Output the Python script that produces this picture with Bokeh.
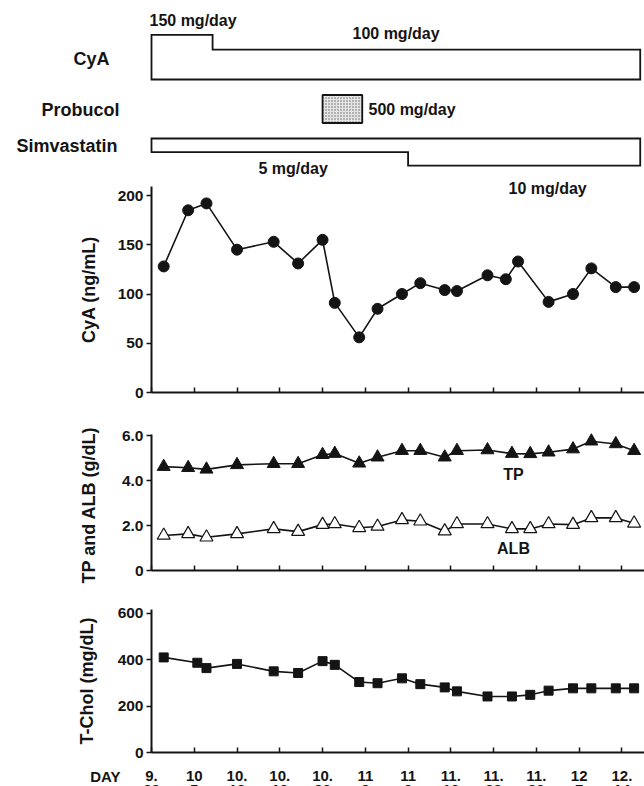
from bokeh.plotting import figure
from bokeh.layouts import column
from bokeh.models import (Range1d, FixedTicker, LinearAxis, CustomLabelingPolicy)
from bokeh.core.properties import value
from bokeh.embed import file_html
from bokeh.resources import INLINE

FONT = "Liberation Sans"
INK = "#141414"

# ---------------- data ----------------
week_days = [0, 7, 14, 21, 28, 35, 42, 49, 56, 63, 70, 77]
date_month = ["9.", "10", "10.", "10.", "10.", "11", "11", "11.", "11.", "11.", "12", "12."]
date_day = ["28", "5", "12", "19", "26", "2", "9", "16", "23", "30", "7", "14"]

cya_dose_start = [0, 10]
cya_dose_end = [10, 80]
cya_dose = [150, 100]

probucol_start = [28]
probucol_end = [34.5]
probucol_dose = [500]

simva_start = [0, 42]
simva_end = [42, 80]
simva_dose = [5, 10]

cya_day = [2, 6, 9, 14, 20, 24, 28, 30, 34, 37, 41, 44, 48, 50, 55, 58, 60, 65, 69, 72, 76, 79]
cya_level = [128, 185, 192, 145, 153, 131, 155, 91, 56, 85, 100, 111, 104, 103, 119, 115, 133, 92,
             100, 126, 107, 107]

tp_day = [2, 6, 9, 14, 20, 24, 28, 30, 34, 37, 41, 44, 48, 50, 55, 59, 62, 65, 69, 72, 76, 79]
tp = [4.62, 4.57, 4.5, 4.7, 4.75, 4.75, 5.15, 5.2, 4.77, 5.04, 5.33, 5.33, 5.04, 5.33, 5.36, 5.2,
      5.19, 5.26, 5.4, 5.75, 5.63, 5.33]

alb_day = [2, 6, 9, 14, 20, 24, 28, 30, 34, 37, 41, 44, 48, 50, 55, 59, 62, 65, 69, 72, 76, 79]
alb = [1.56, 1.63, 1.48, 1.63, 1.85, 1.73, 2.04, 2.07, 1.9, 1.96, 2.25, 2.19, 1.75, 2.07, 2.07, 1.85,
       1.85, 2.07, 2.04, 2.34, 2.34, 2.1]

chol_day = [2, 7.5, 9, 14, 20, 24, 28, 30, 34, 37, 41, 44, 48, 50, 55, 59, 62, 65, 69, 72, 76, 79]
chol = [409, 386, 363, 381, 349, 342, 393, 377, 303, 298, 319, 294, 280, 263, 241, 241, 248, 266,
        276, 276, 276, 276]

# ---------------- layout ----------------
W = 644
SPINE_X = 151
X_END = 80.7
ppd = (W - SPINE_X) / X_END


def px2day(px):
    return (px - SPINE_X) / ppd


def yrange(page_top, page_bottom, zero_page, k):
    return Range1d((zero_page - page_bottom) / k, (zero_page - page_top) / k)


def yval(page, zero_page, k):
    return (zero_page - page) / k


TXT = dict(text_font=value(FONT), text_font_style="bold", text_color=INK,
           text_baseline="middle")
NO_LABELS = CustomLabelingPolicy(code="return new Set()")


def base_fig(height, y_range):
    p = figure(width=W, height=height, x_range=Range1d(px2day(0), X_END), y_range=y_range,
               x_axis_type=None, y_axis_type=None, toolbar_location=None, output_backend="svg",
               min_border_left=0, min_border_right=0, min_border_top=0, min_border_bottom=0,
               outline_line_color=None, background_fill_color="white", border_fill_color="white")
    return p


# ---------- treatment panel ----------
TOP_H = 178
top = base_fig(TOP_H, Range1d(TOP_H, 0))

CYA_BASE, CYA_K = 79.0, 0.298
xs, ys = [cya_dose_start[0]], [CYA_BASE]
for s, e, d in zip(cya_dose_start, cya_dose_end, cya_dose):
    xs += [s, e]
    ys += [CYA_BASE - d * CYA_K] * 2
xs.append(cya_dose_end[-1]); ys.append(CYA_BASE)
top.patch(xs, ys, fill_color="white", line_color=INK, line_width=1.8, line_join="miter")

SIM_TOP, SIM_K = 138.0, 2.72
xs, ys = [simva_start[0]], [SIM_TOP]
for s, e, d in zip(simva_start, simva_end, simva_dose):
    xs += [s, e]
    ys += [SIM_TOP + d * SIM_K] * 2
xs.append(simva_end[-1]); ys.append(SIM_TOP)
top.patch(xs, ys, fill_color="white", line_color=INK, line_width=1.8, line_join="miter")

top.quad(left=probucol_start, right=probucol_end, top=[94.5], bottom=[122.5],
         fill_color="#e4e4e4", hatch_pattern="dot", hatch_color="#666", hatch_scale=3,
         line_color=INK, line_width=1.8)

top.text(x=[px2day(109), px2day(119), px2day(117)], y=[58.5, 109, 145.5],
         text=["CyA", "Probucol", "Simvastatin"], text_font_size="18px", text_align="right",
         **TXT)
top.text(x=[px2day(149), px2day(352), px2day(368), px2day(258)], y=[20, 32.7, 109.3, 167.8],
         text=[f"{cya_dose[0]} mg/day", f"{cya_dose[1]} mg/day", f"{probucol_dose[0]} mg/day",
               f"{simva_dose[0]} mg/day"], text_font_size="16px", text_align="left", **TXT)


# ---------- data panels ----------
def panel(height, page_top, zero_page, k, y_top, yticks, ylabel, standoff, overrides=None):
    p = base_fig(height, yrange(page_top, page_top + height, zero_page, k))
    xa = LinearAxis(fixed_location=0, bounds=(0, X_END), ticker=FixedTicker(ticks=week_days),
                    major_tick_in=5, major_tick_out=0, major_label_policy=NO_LABELS)
    ya = LinearAxis(fixed_location=0, bounds=(0, y_top), ticker=FixedTicker(ticks=yticks),
                    major_tick_in=0, major_tick_out=5, major_label_standoff=3,
                    axis_label=ylabel, axis_label_standoff=standoff)
    if overrides:
        ya.major_label_overrides = overrides
    for ax in (xa, ya):
        ax.major_label_text_font = FONT
        ax.major_label_text_font_style = "bold"
        ax.major_label_text_font_size = "15.5px"
        ax.major_label_text_color = INK
        ax.axis_label_text_font = FONT
        ax.axis_label_text_font_style = "bold"
        ax.axis_label_text_font_size = "18px"
        ax.axis_label_text_color = INK
        ax.minor_tick_line_color = None
        ax.axis_line_width = 2
        ax.axis_line_color = INK
        ax.major_tick_line_width = 1.5
        ax.major_tick_line_color = INK
    p.add_layout(xa, "below")
    p.add_layout(ya, "left")
    return p


CYA_ZERO, CYA_K_PX = 392, 0.985
cya_p = panel(410 - TOP_H, TOP_H, CYA_ZERO, CYA_K_PX, 209.1, [0, 50, 100, 150, 200],
              "CyA (ng/mL)", 16)
cya_p.line(cya_day, cya_level, line_color=INK, line_width=1.6)
cya_p.scatter(cya_day, cya_level, marker="circle", size=11, fill_color=INK, line_color=INK)
cya_p.text(x=[px2day(508)], y=[yval(188, CYA_ZERO, CYA_K_PX)],
           text=[f"{simva_dose[1]} mg/day"], text_font_size="16px", text_align="left", **TXT)

TP_ZERO, TP_K_PX = 570, 22.48
tp_p = panel(180, 410, TP_ZERO, TP_K_PX, 6.05, [0, 2, 4, 6], "TP and ALB  (g/dL)", 20,
             overrides={0: "0", 2: "2.0", 4: "4.0", 6: "6.0"})
tp_p.line(tp_day, tp, line_color=INK, line_width=1.6)
tp_p.scatter(tp_day, tp, marker="triangle", size=13, fill_color=INK, line_color=INK)
tp_p.line(alb_day, alb, line_color=INK, line_width=1.6)
tp_p.scatter(alb_day, alb, marker="triangle", size=13, fill_color="white", line_color=INK,
             line_width=1.2)
tp_p.text(x=[px2day(513), px2day(513)],
          y=[yval(474.2, TP_ZERO, TP_K_PX), yval(547.5, TP_ZERO, TP_K_PX)], text=["TP", "ALB"],
          text_font_size="16px", text_align="center", **TXT)

CH_ZERO, CH_K_PX = 752, 0.2325
chol_p = panel(196, 590, CH_ZERO, CH_K_PX, 615, [0, 200, 400, 600], "T-Chol (mg/dL)", 18)
chol_p.line(chol_day, chol, line_color=INK, line_width=1.6)
chol_p.scatter(chol_day, chol, marker="square", size=9, fill_color=INK, line_color=INK)

row1 = yval(775.5, CH_ZERO, CH_K_PX)
row2 = yval(789.5, CH_ZERO, CH_K_PX)
chol_p.text(x=week_days, y=[row1] * len(week_days), text=date_month, text_font_size="15px",
            text_align="center", **TXT)
chol_p.text(x=week_days, y=[row2] * len(week_days), text=date_day, text_font_size="15px",
            text_align="center", **TXT)
chol_p.text(x=[px2day(120)], y=[row1], text=["DAY"], text_font_size="15px", text_align="right",
            **TXT)

layout = column(top, cya_p, tp_p, chol_p, spacing=0)
open("out.html", "w").write(file_html(layout, INLINE))
